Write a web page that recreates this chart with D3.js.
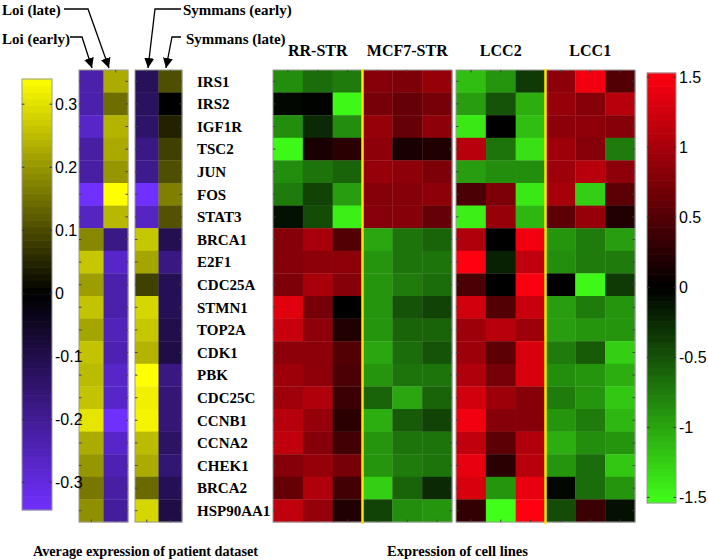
<!DOCTYPE html>
<html><head><meta charset="utf-8">
<script src="https://cdn.jsdelivr.net/npm/d3@7"></script>
<style>body{margin:0;background:#fff}svg{display:block}</style>
</head><body><svg id="c" width="708" height="560"></svg>
<script>
const genes = ["IRS1","IRS2","IGF1R","TSC2","JUN","FOS","STAT3","BRCA1","E2F1","CDC25A","STMN1","TOP2A","CDK1","PBK","CDC25C","CCNB1","CCNA2","CHEK1","BRCA2","HSP90AA1"];
const patientCols = ["Loi (early)","Loi (late)","Symmans (early)","Symmans (late)"];
const loiEarly = [-0.23,-0.23,-0.27,-0.22,-0.22,-0.345,-0.26,0.18,0.265,0.21,0.26,0.22,0.26,0.25,0.26,0.305,0.23,0.20,0.16,0.19];
const loiLate  = [0.23,0.145,0.24,0.225,0.20,0.345,0.245,-0.18,-0.27,-0.23,-0.23,-0.25,-0.24,-0.27,-0.27,-0.34,-0.27,-0.24,-0.22,-0.21];
const symEarly = [-0.12,-0.13,-0.14,-0.18,-0.19,-0.345,-0.26,0.265,0.22,0.085,0.285,0.265,0.24,0.345,0.32,0.325,0.25,0.23,0.14,0.285];
const symLate  = [0.105,0.0,0.045,0.085,0.105,0.17,0.11,-0.11,-0.175,-0.115,-0.115,-0.10,-0.095,-0.175,-0.16,-0.16,-0.135,-0.155,-0.115,-0.095];

const cellGroups = ["RR-STR","MCF7-STR","LCC2","LCC1"];
const rrStr = [[-0.85,-0.65,-0.75],[-0.05,-0.02,-1.5],[-0.85,-0.25,-0.85],[-1.5,0.15,0.25],[-0.85,-0.7,-0.6],[-0.75,-0.4,-0.95],[-0.1,-0.45,-1.45],[0.8,1.0,0.5],[0.8,0.85,0.85],[0.75,1.0,0.8],[1.35,0.7,0.0],[1.2,0.85,0.2],[0.85,0.85,0.5],[0.95,0.85,0.45],[0.95,1.05,0.35],[1.1,0.9,0.25],[1.15,0.8,0.4],[0.8,0.9,0.7],[0.6,1.05,0.4],[1.15,0.9,0.2]];
const mcf7Str = [[0.8,0.75,0.9],[0.7,0.6,0.7],[0.9,0.6,0.85],[0.85,0.15,0.2],[0.9,0.85,0.75],[0.8,0.8,0.85],[0.8,0.8,0.6],[-1.0,-0.7,-0.6],[-0.9,-0.7,-0.7],[-0.9,-0.75,-0.65],[-0.9,-0.5,-0.4],[-0.9,-0.6,-0.6],[-1.0,-0.65,-0.5],[-0.9,-0.7,-0.7],[-0.6,-1.0,-0.6],[-1.05,-0.55,-0.4],[-0.9,-0.7,-0.7],[-0.9,-0.75,-0.7],[-1.25,-0.6,-0.25],[-0.4,-0.85,-0.9]];
const lcc2 = [[-1.15,-0.9,-0.35],[-0.95,-0.5,-1.05],[-1.4,0.0,-1.15],[1.1,-0.7,-1.35],[-0.95,-0.85,-0.85],[0.45,0.75,-1.4],[-1.45,0.9,-1.1],[1.05,0.0,1.45],[1.55,-0.2,1.15],[0.45,0.0,1.5],[1.25,0.5,1.2],[0.95,1.1,0.95],[0.95,0.55,1.3],[1.05,0.7,1.3],[1.25,0.95,0.8],[1.45,0.8,0.8],[1.15,0.55,1.05],[1.4,0.25,1.1],[1.3,-0.9,1.4],[0.3,-1.55,1.55]];
const lcc1 = [[0.85,1.45,0.5],[0.9,0.8,1.1],[0.85,0.85,0.8],[0.95,0.8,-0.75],[0.95,1.1,0.85],[1.0,-1.25,0.55],[0.55,0.9,0.2],[-0.9,-0.75,-0.95],[-0.85,-0.75,-0.75],[0.0,-1.5,-0.35],[-0.95,-0.75,-0.9],[-0.95,-0.9,-0.9],[-0.75,-0.55,-1.25],[-0.85,-0.9,-1.05],[-0.75,-0.9,-1.2],[-0.9,-0.75,-1.1],[-1.05,-0.85,-0.9],[-0.9,-0.65,-1.2],[-0.05,-0.65,-0.9],[-0.45,0.35,-0.1]];

const patientTicks = [-0.3,-0.2,-0.1,0,0.1,0.2,0.3];
const cellTicks = [-1.5,-1,-0.5,0,0.5,1,1.5];

const svg = d3.select("#c");
const serif = "'Liberation Serif','Times New Roman',serif";
const sans = "'Liberation Sans',Arial,sans-serif";

const patientColor = d3.scaleLinear().domain([-0.344,0,0.34]).range(["#7030ff","#000000","#ffff00"]).clamp(true);
const cellColor = d3.scaleLinear().domain([-1.54,0,1.53]).range(["#40ff18","#000000","#ff0010"]).clamp(true);

const y = d3.scaleBand().domain(genes).range([70,522]);

function ticksFrame(g, x0, x1, nCols, colScale, cols){
  g.append("rect").attr("x",x0).attr("y",y.range()[0]).attr("width",x1-x0).attr("height",y.range()[1]-y.range()[0])
    .attr("fill","none").attr("stroke","#9a9a9a").attr("stroke-width",1);
  cols.forEach(c=>{
    const cx = colScale(c)+colScale.bandwidth()/2;
    g.append("line").attr("x1",cx).attr("x2",cx).attr("y1",y.range()[0]).attr("y2",y.range()[0]+2.5).attr("stroke","#444");
    g.append("line").attr("x1",cx).attr("x2",cx).attr("y1",y.range()[1]).attr("y2",y.range()[1]-2.5).attr("stroke","#444");
  });
  genes.forEach(gn=>{
    const cy = y(gn)+y.bandwidth()/2;
    g.append("line").attr("x1",x0).attr("x2",x0+2.5).attr("y1",cy).attr("y2",cy).attr("stroke","#444");
    g.append("line").attr("x1",x1).attr("x2",x1-2.5).attr("y1",cy).attr("y2",cy).attr("stroke","#444");
  });
}

// Patient heatmaps
const patBlocks = [
  {x0:79, x1:128, cols:[["Loi (early)",loiEarly],["Loi (late)",loiLate]]},
  {x0:135, x1:182, cols:[["Symmans (early)",symEarly],["Symmans (late)",symLate]]}
];
patBlocks.forEach(b=>{
  const g = svg.append("g");
  const xs = d3.scaleBand().domain(b.cols.map(c=>c[0])).range([b.x0,b.x1]);
  b.cols.forEach(([name,vals])=>{
    g.selectAll(null).data(vals).join("rect")
      .attr("x",xs(name)).attr("width",xs.bandwidth()+0.3)
      .attr("y",(d,i)=>y(genes[i])).attr("height",y.bandwidth()+0.3)
      .attr("fill",d=>patientColor(d));
  });
  ticksFrame(g,b.x0,b.x1,2,xs,b.cols.map(c=>c[0]));
});

// Cell line heatmaps
const cellBlocks = [
  {x0:273, x1:452, groups:[["RR-STR",rrStr],["MCF7-STR",mcf7Str]]},
  {x0:456, x1:635, groups:[["LCC2",lcc2],["LCC1",lcc1]]}
];
cellBlocks.forEach(b=>{
  const g = svg.append("g");
  const colKeys = [];
  b.groups.forEach(([n])=>{for(let r=0;r<3;r++) colKeys.push(n+"#"+r);});
  const xs = d3.scaleBand().domain(colKeys).range([b.x0,b.x1]);
  b.groups.forEach(([n,mat])=>{
    mat.forEach((row,i)=>{
      g.selectAll(null).data(row).join("rect")
        .attr("x",(d,r)=>xs(n+"#"+r)).attr("width",xs.bandwidth()+0.3)
        .attr("y",y(genes[i])).attr("height",y.bandwidth()+0.3)
        .attr("fill",d=>cellColor(d));
    });
  });
  ticksFrame(g,b.x0,b.x1,6,xs,colKeys);
  const sepX = xs(b.groups[1][0]+"#0");
  g.append("line").attr("x1",sepX).attr("x2",sepX).attr("y1",y.range()[0]-1).attr("y2",y.range()[1]+2)
    .attr("stroke","#ffe600").attr("stroke-width",2.5);
  b.groups.forEach(([n])=>{
    const cx = (xs(n+"#0")+xs(n+"#2")+xs.bandwidth())/2;
    svg.append("text").attr("x",cx).attr("y",56).attr("text-anchor","middle")
      .attr("font-family",serif).attr("font-weight","bold").attr("font-size",16).text(n);
  });
});

// Gene labels
svg.append("g").selectAll("text").data(genes).join("text")
  .attr("x",197).attr("y",d=>y(d)+y.bandwidth()/2).attr("dy","0.35em")
  .attr("font-family",serif).attr("font-weight","bold").attr("font-size",15).text(d=>d);

// Colorbars
function colorbar(x0,x1,yTop,yBot,color,ticks,labelX){
  const g = svg.append("g");
  const dom = color.domain();
  const ys = d3.scaleLinear().domain([dom[0],dom[dom.length-1]]).range([yBot,yTop]);
  const n = 64;
  const steps = d3.range(n).map(i=>dom[0]+(dom[dom.length-1]-dom[0])*(i+0.5)/n);
  const h = (yBot-yTop)/n;
  g.selectAll(null).data(steps).join("rect")
    .attr("x",x0).attr("width",x1-x0)
    .attr("y",d=>ys(d)-h/2-0.3).attr("height",h+0.6)
    .attr("fill",d=>color(d));
  g.append("rect").attr("x",x0).attr("y",yTop).attr("width",x1-x0).attr("height",yBot-yTop)
    .attr("fill","none").attr("stroke","#9a9a9a");
  ticks.forEach(t=>{
    const ty = ys(t);
    g.append("line").attr("x1",x0).attr("x2",x0+2.5).attr("y1",ty).attr("y2",ty).attr("stroke","#333");
    g.append("line").attr("x1",x1).attr("x2",x1-2.5).attr("y1",ty).attr("y2",ty).attr("stroke","#333");
    g.append("text").attr("x",labelX).attr("y",ty).attr("dy","0.36em")
      .attr("font-family",sans).attr("font-size",16).text(t);
  });
}
colorbar(22,52,79,510,patientColor,patientTicks,55);
colorbar(647,676,73,503,cellColor,cellTicks,679);

// Annotations with arrows
svg.append("defs").append("marker").attr("id","ah").attr("viewBox","0 0 10 10")
  .attr("refX",10).attr("refY",5).attr("markerWidth",10).attr("markerHeight",10)
  .attr("markerUnits","userSpaceOnUse").attr("orient","auto")
  .append("path").attr("d","M0,0 L10,5 L0,10 Z").attr("fill","#000");
const ann = [
  {label:patientCols[1], tx:2, ty:15, anchor:"start", pts:[[64,9],[88,9],[109,68]]},
  {label:patientCols[0], tx:2, ty:44, anchor:"start", pts:[[70,37],[82,37],[92,68]]},
  {label:patientCols[2], tx:183, ty:15, anchor:"start", pts:[[181,9],[155,9],[148,68]]},
  {label:patientCols[3], tx:186, ty:44, anchor:"start", pts:[[181,37],[172,37],[166,68]]}
];
ann.forEach(a=>{
  svg.append("text").attr("x",a.tx).attr("y",a.ty).attr("text-anchor",a.anchor)
    .attr("font-family",serif).attr("font-weight","bold").attr("font-size",15).text(a.label);
  svg.append("path").attr("d",d3.line()(a.pts)).attr("fill","none").attr("stroke","#000")
    .attr("stroke-width",1.3).attr("marker-end","url(#ah)");
});

// Bottom labels
svg.append("text").attr("x",33).attr("y",556).attr("font-family",serif).attr("font-weight","bold")
  .attr("font-size",14).attr("textLength",225).attr("lengthAdjust","spacingAndGlyphs").text("Average expression of patient dataset");
svg.append("text").attr("x",387).attr("y",556).attr("font-family",serif).attr("font-weight","bold")
  .attr("font-size",14).attr("textLength",141).attr("lengthAdjust","spacingAndGlyphs").text("Expression of cell lines");
</script></body></html>
